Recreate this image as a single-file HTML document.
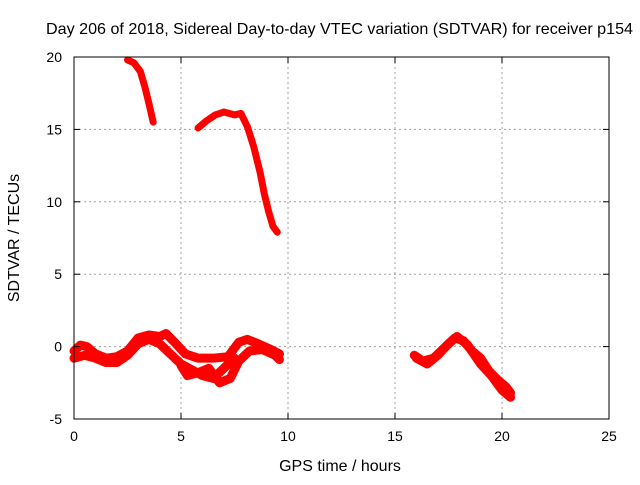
<!DOCTYPE html>
<html><head><meta charset="utf-8"><style>
body{margin:0;background:#fff;width:640px;height:480px;overflow:hidden}
svg text{font-family:"Liberation Sans",sans-serif;font-size:14px;fill:#000}
svg text.big{font-size:16px}
</style></head><body>
<svg id="chart" width="640" height="480" xmlns="http://www.w3.org/2000/svg">
<text class="big" x="46" y="34" textLength="587" lengthAdjust="spacingAndGlyphs">Day 206 of 2018, Sidereal Day-to-day VTEC variation (SDTVAR) for receiver p154</text>
<text class="big" x="340" y="471" text-anchor="middle">GPS time / hours</text>
<text class="big" transform="translate(19,238) rotate(-90)" text-anchor="middle">SDTVAR / TECUs</text>
<g id="grid"></g>
<g id="marks"></g>
<rect x="74" y="57" width="535" height="362" fill="none" stroke="#000" stroke-width="1"/>
<g id="ticks"></g>
</svg>
<script>
const xTicks=[0,5,10,15,20,25];
const yTicks=[-5,0,5,10,15,20];
const seg1=[[2.5,19.8],[2.8,19.6],[3.1,19.0],[3.3,18.0],[3.5,16.8],[3.7,15.5]];
const seg2=[[5.8,15.1],[6.2,15.6],[6.6,16.0],[7.0,16.2],[7.5,16.0],[7.8,16.1],[8.1,15.2],[8.4,13.8],[8.7,12.0],[8.9,10.5],[9.1,9.3],[9.3,8.3],[9.5,7.9]];
const seg3=[[0,-0.3],[0.3,0.1],[0.6,0],[1,-0.5],[1.5,-0.8],[2,-0.7],[2.5,-0.3],[3,0.6],[3.5,0.8],[4,0.7],[4.3,0.9],[4.7,0.3],[5.2,-0.5],[5.8,-0.8],[6.5,-0.8],[7.2,-0.7],[7.7,0.3],[8.1,0.5],[8.6,0.2],[9.2,-0.2],[9.6,-0.5]];
const seg4=[[0,-0.8],[0.5,-0.6],[1,-0.8],[1.5,-1.1],[2,-1.1],[2.5,-0.6],[3,0.2],[3.5,0.5],[4,0.2],[4.5,-0.5],[5,-1.2],[5.5,-1.6],[6,-2],[6.5,-2.2],[7,-1.5],[7.5,-0.8]];
const seg5=[[5,-1.3],[5.3,-2.0],[5.8,-1.8],[6.3,-1.5],[6.8,-2.5],[7.3,-2.2],[7.7,-1.0],[8.2,-0.3],[8.8,-0.2],[9.4,-0.6],[9.6,-0.9]];
const seg6=[[15.9,-0.6],[16.3,-1.0],[16.8,-0.8],[17.3,-0.1],[17.8,0.6],[18.2,0.4],[18.6,-0.3],[19,-0.8],[19.4,-1.7],[19.8,-2.3],[20.2,-2.8],[20.4,-3.2]];
const seg7=[[16,-0.8],[16.5,-1.2],[17,-0.6],[17.5,0.2],[17.9,0.7],[18.4,0.1],[19.0,-1.2],[19.5,-2.0],[20,-3.0],[20.4,-3.5]];
const segments=[seg1,seg2,seg3,seg4,seg5,seg6,seg7];
const X0=74,X1=609,Y0=419,Y1=57;
const sx=v=>X0+(v-0)/(25-0)*(X1-X0);
const sy=v=>Y0-(v+5)/(25)*(Y0-Y1);
const NS='http://www.w3.org/2000/svg';
const grid=document.getElementById('grid'),ticks=document.getElementById('ticks'),marks=document.getElementById('marks');
function mk(t,a,p){const e=document.createElementNS(NS,t);for(const k in a)e.setAttribute(k,a[k]);p.appendChild(e);return e;}
xTicks.forEach(v=>{const x=sx(v);
 if(v>0&&v<25){const g=mk('line',{x1:x,x2:x,y1:Y1,y2:Y0,stroke:'#a0a0a0','stroke-dasharray':'2,3'},grid);}
 mk('line',{x1:x,x2:x,y1:Y0,y2:Y0-6,stroke:'#000'},ticks);mk('line',{x1:x,x2:x,y1:Y1,y2:Y1+6,stroke:'#000'},ticks);
 const t=mk('text',{x:x,y:Y0+22,'text-anchor':'middle'},ticks);t.textContent=v;
 });
yTicks.forEach(v=>{const y=sy(v);
 if(v>-5&&v<20){const g=mk('line',{x1:X0,x2:X1,y1:y,y2:y,stroke:'#a0a0a0','stroke-dasharray':'2,3'},grid);}
 mk('line',{x1:X0,x2:X0+6,y1:y,y2:y,stroke:'#000'},ticks);mk('line',{x1:X1,x2:X1-6,y1:y,y2:y,stroke:'#000'},ticks);
 const t=mk('text',{x:X0-12,y:y+5,'text-anchor':'end'},ticks);t.textContent=v;
 });
segments.forEach((s,i)=>{
 const p=mk('polyline',{points:s.map(d=>sx(d[0])+','+sy(d[1])).join(' '),fill:'none',stroke:'#ff0000','stroke-width':i<2?7:9,'stroke-linejoin':'round','stroke-linecap':'round'},marks);
 
 
});
</script>
</body></html>
